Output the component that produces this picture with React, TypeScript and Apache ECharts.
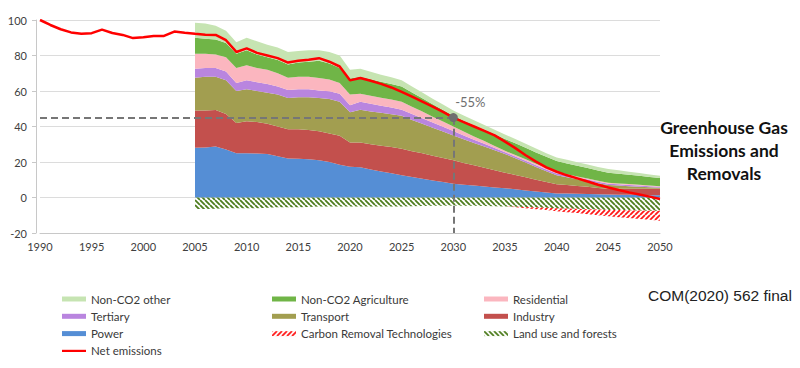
import React, { useEffect, useRef } from "react";
import * as echarts from "echarts";

// ---- Data (index 1990 = 100) ----
const years = [
  "1990", "1991", "1992", "1993", "1994", "1995", "1996", "1997", "1998", "1999",
  "2000", "2001", "2002", "2003", "2004", "2005", "2006", "2007", "2008", "2009",
  "2010", "2011", "2012", "2013", "2014", "2015", "2016", "2017", "2018", "2019",
  "2020", "2021", "2022", "2023", "2024", "2025", "2026", "2027", "2028", "2029",
  "2030", "2031", "2032", "2033", "2034", "2035", "2036", "2037", "2038", "2039",
  "2040", "2041", "2042", "2043", "2044", "2045", "2046", "2047", "2048", "2049", "2050",
];
const netEmissions = [
  100, 97.2, 94.8, 93, 92.3, 92.6, 94.6, 92.7, 91.6, 89.8,
  90.3, 91, 91, 93.5, 92.8, 92.2, 91.7, 91.6, 88.6, 82,
  84, 81.5, 80, 78.5, 76, 77, 77.6, 78.5, 76.5, 73.8,
  66, 67.3, 65.8, 64, 62, 59.5, 56.8, 54, 51.2, 48.2,
  45, 42.5, 40, 37.5, 35, 31.5, 27.8, 23.8, 20.2, 17,
  14.5, 12.5, 10.8, 9, 7.2, 5.6, 4.2, 2.9, 1.7, 0.5, -0.8,
];

// sector breakdown, 2005-2050
const stackYears = [
  "2005", "2006", "2007", "2008", "2009", "2010", "2011", "2012", "2013", "2014",
  "2015", "2016", "2017", "2018", "2019", "2020", "2021", "2022", "2023", "2024",
  "2025", "2026", "2027", "2028", "2029", "2030", "2031", "2032", "2033", "2034",
  "2035", "2036", "2037", "2038", "2039", "2040", "2041", "2042", "2043", "2044",
  "2045", "2046", "2047", "2048", "2049", "2050",
];
const power = [
  28, 28.2, 28.7, 27, 25, 25, 24.8, 24.5, 23.3, 22, 21.8, 21.5, 21, 20, 18.5, 17.3, 17,
  15.8, 14.7, 13.6, 12.5, 11.5, 10.6, 9.6, 8.7, 7.8, 7.2, 6.7, 6.2, 5.7, 5.2, 4.6, 4, 3.4, 2.8,
  2.3, 2.2, 2.1, 2, 1.8, 1.7, 1.6, 1.5, 1.4, 1.3, 1.2,
];
const industry = [
  21, 20.8, 20.6, 20, 17, 18, 17.7, 17, 16.7, 16.5, 16.7, 16.5, 16.3, 16, 16.3, 13.7, 14,
  14.2, 14.5, 14.8, 15, 14.6, 14.3, 13.9, 13.6, 13.2, 12.3, 11.4, 10.6, 9.7, 8.8, 8.1, 7.4, 6.6, 5.9,
  5.2, 4.8, 4.4, 4, 3.6, 3.3, 3.4, 3.5, 3.6, 3.7, 3.8,
];
const transport = [
  18.5, 19, 18.7, 19, 18, 18, 17.5, 17.5, 18, 17.5, 18, 18.5, 18.7, 19.5, 19.2, 17, 18.5,
  18.5, 18.5, 18.5, 18.5, 17.6, 16.7, 15.8, 14.9, 14, 13.3, 12.6, 11.9, 11.2, 10.5, 9.4, 8.3, 7.2, 6.1,
  5, 4.4, 3.8, 3.2, 2.6, 2, 1.7, 1.4, 1.1, 0.8, 0.5,
];
const tertiary = [
  5, 5, 5, 5, 4.5, 5, 5, 5, 4.5, 4.5, 4.5, 4.5, 4.3, 4.3, 4.5, 4, 4.5,
  4.3, 4, 3.8, 3.5, 3.3, 3.1, 2.9, 2.7, 2.5, 2.2, 1.9, 1.6, 1.3, 1, 1, 1, 1, 1,
  1, 0.96, 0.92, 0.88, 0.84, 0.8, 0.74, 0.68, 0.62, 0.56, 0.5,
];
const residential = [
  8.5, 8, 7.5, 8, 8.5, 8.5, 8, 8, 7.5, 7, 7, 7, 7, 6.7, 6, 6, 4.5,
  4.5, 4.5, 4.5, 4.5, 4.1, 3.7, 3.3, 2.9, 2.5, 2.2, 1.8, 1.5, 1.1, 0.8, 0.8, 0.8, 0.8, 0.8,
  0.8, 0.74, 0.68, 0.62, 0.56, 0.5, 0.48, 0.46, 0.44, 0.42, 0.4,
];
const nonCo2Agriculture = [
  9, 8.5, 8.5, 8, 8, 8.5, 7.5, 7, 7.5, 7.5, 8, 8.5, 9.7, 9, 8.5, 9, 9.5,
  9.3, 9, 8.8, 8.5, 8, 7.5, 7, 6.5, 6, 6.1, 6.3, 6.4, 6.6, 6.7, 6.6, 6.5, 6.4, 6.3,
  6.2, 6.1, 6, 5.9, 5.8, 5.7, 5.5, 5.3, 5.1, 4.8, 4.6,
];
const nonCo2Other = [
  8.5, 8.5, 7.8, 7, 6.5, 7, 7.5, 7, 7, 7, 6.5, 6.5, 6, 6.5, 7, 5, 4.5,
  4.3, 4, 3.8, 3.5, 3.4, 3.3, 3.2, 3.1, 3, 2.9, 2.8, 2.7, 2.6, 2.5, 2.4, 2.3, 2.2, 2.1,
  2, 2, 2, 2, 2, 2, 1.9, 1.7, 1.6, 1.4, 1.3,
];
const landUse = [
  -6.5, -6.5, -6.3, -6, -6, -6, -6, -5.8, -5.5, -5.5, -5.5, -5.3, -5, -5, -5, -5, -5,
  -5, -5, -5, -5, -4.9, -4.8, -4.7, -4.6, -4.5, -4.6, -4.7, -4.8, -4.9, -5, -5.2, -5.4, -5.6, -5.8,
  -6, -6.2, -6.4, -6.6, -6.8, -7, -7.1, -7.2, -7.3, -7.4, -7.5,
];
const carbonRemoval = [
  0, 0, 0, 0, 0, 0, 0, 0, 0, 0, 0, 0, 0, 0, 0, 0, 0,
  0, 0, 0, 0, 0, 0, 0, 0, 0, 0, 0, 0, 0, 0, -0.3, -0.6, -1, -1.3,
  -1.7, -2.1, -2.4, -2.8, -3.2, -3.6, -4, -4.4, -4.8, -5.2, -5.6,
];

const yTicks = { min: -20, max: 100, interval: 20 };
const baselineYear = "1990";
const targetYear = "2030";

const FONT = "Lato, 'Open Sans', sans-serif";

function hatch(color: string, dir: "back" | "fwd") {
  const size = 5;
  const c = document.createElement("canvas");
  c.width = size;
  c.height = size;
  const ctx = c.getContext("2d")!;
  ctx.strokeStyle = color;
  ctx.lineWidth = 1.8;
  ctx.beginPath();
  for (const o of [-size, 0, size]) {
    if (dir === "back") {
      ctx.moveTo(o, 0);
      ctx.lineTo(o + size, size);
    } else {
      ctx.moveTo(o, size);
      ctx.lineTo(o + size, 0);
    }
  }
  ctx.stroke();
  return { image: c, repeat: "repeat", imageWidth: size, imageHeight: size } as any;
}

// place sector values on the yearly category axis (no value before 2005)
function onAxis(vals: number[]) {
  return years.map((y) => {
    const i = stackYears.indexOf(y);
    return i >= 0 ? vals[i] : "-";
  });
}

export default function App() {
  const ref = useRef<HTMLDivElement>(null);

  useEffect(() => {
    if (!ref.current) return;
    const chart = echarts.init(ref.current, null, { renderer: "svg" });

    const greenHatch = hatch("#4E7D1E", "back");
    const redHatch = hatch("#FF1A1A", "fwd");

    const stackDefs = [
      { name: "Power", data: power, color: "#558ED5" },
      { name: "Industry", data: industry, color: "#C3504D" },
      { name: "Transport", data: transport, color: "#A29E50" },
      { name: "Tertiary", data: tertiary, color: "#B985DF" },
      { name: "Residential", data: residential, color: "#FBB6BF" },
      { name: "Non-CO2 Agriculture", data: nonCo2Agriculture, color: "#70B547" },
      { name: "Non-CO2 other", data: nonCo2Other, color: "#C6E4B2" },
      { name: "Land use and forests", data: landUse, color: greenHatch },
      { name: "Carbon Removal Technologies", data: carbonRemoval, color: redHatch },
    ];
    const colorOf: Record<string, any> = {};
    stackDefs.forEach((d) => (colorOf[d.name] = d.color));

    const areaSeries = stackDefs.map((d) => ({
      name: d.name,
      type: "line",
      stack: "total",
      data: onAxis(d.data),
      symbol: "none",
      showSymbol: false,
      lineStyle: { width: 0, color: d.color },
      itemStyle: { color: d.color },
      areaStyle: { color: d.color, opacity: 1 },
      z: 2,
    }));

    const tIdx = years.indexOf(targetYear);
    const baseVal = netEmissions[years.indexOf(baselineYear)];
    const targetValue = netEmissions[tIdx];
    const pctLabel = `${Math.round(((targetValue - baseVal) / baseVal) * 100)}%`;

    const legendItem = (name: string) =>
      name === "Net emissions"
        ? { name, icon: "path://M0,0L24,0L24,2.2L0,2.2Z", itemStyle: { color: "#FF0000", borderWidth: 0 } }
        : { name, itemStyle: { color: colorOf[name], borderWidth: 0 } };

    const legendBase = {
      orient: "vertical",
      top: 287,
      itemWidth: 24,
      itemHeight: 5,
      itemGap: 3.3,
      icon: "rect",
      selectedMode: false,
      textStyle: { fontFamily: FONT, fontSize: 11.5, color: "#3A3A3A", lineHeight: 14 },
    };

    chart.setOption({
      animation: false,
      grid: { left: 40, right: 140, top: 20, bottom: 135, containLabel: false },
      xAxis: {
        type: "category",
        data: years,
        boundaryGap: false,
        axisLine: { onZero: false, lineStyle: { color: "#C8C8C8", width: 1 } },
        axisTick: { show: false },
        splitLine: { show: false },
        axisLabel: { interval: 4, fontFamily: FONT, fontSize: 11, color: "#404040", margin: 8 },
      },
      yAxis: {
        type: "value",
        min: yTicks.min,
        max: yTicks.max,
        interval: yTicks.interval,
        offset: 4,
        axisLine: { show: true, lineStyle: { color: "#C8C8C8", width: 1 } },
        axisTick: { show: true, length: 4, lineStyle: { color: "#C8C8C8" } },
        splitLine: { show: true, lineStyle: { color: "#DCDCDC", width: 1 } },
        axisLabel: { fontFamily: FONT, fontSize: 11, color: "#404040", margin: 9 },
      },
      legend: [
        { ...legendBase, left: 57, data: ["Non-CO2 other", "Tertiary", "Power", "Net emissions"].map(legendItem) },
        { ...legendBase, left: 267, data: ["Non-CO2 Agriculture", "Transport", "Carbon Removal Technologies"].map(legendItem) },
        { ...legendBase, left: 479, data: ["Residential", "Industry", "Land use and forests"].map(legendItem) },
      ],
      series: [
        ...areaSeries,
        {
          name: "Net emissions",
          type: "line",
          data: netEmissions,
          symbol: "none",
          showSymbol: false,
          lineStyle: { color: "#FF0000", width: 2.5 },
          itemStyle: { color: "#FF0000" },
          z: 5,
          markLine: {
            silent: true,
            symbol: ["none", "none"],
            label: { show: false },
            lineStyle: { type: [7, 4], color: "#767676", width: 2 },
            data: [
              [{ coord: [0, targetValue] }, { coord: [tIdx, targetValue] }],
              [{ coord: [tIdx, targetValue] }, { coord: [tIdx, yTicks.min] }],
            ],
            z: 6,
          },
          markPoint: {
            silent: true,
            symbol: "circle",
            symbolSize: 9,
            itemStyle: { color: "#6F6F6F" },
            label: {
              show: true,
              position: "top",
              offset: [17, 0],
              formatter: pctLabel,
              fontFamily: FONT,
              fontSize: 13,
              color: "#6F6F6F",
            },
            data: [{ coord: [tIdx, targetValue] }],
            z: 7,
          },
        },
      ],
      graphic: [
        {
          type: "text",
          x: 724,
          y: 116,
          style: {
            text: "Greenhouse Gas\nEmissions and\nRemovals",
            fontFamily: FONT,
            fontWeight: "bold",
            fontSize: 17.5,
            lineHeight: 23,
            align: "center",
            verticalAlign: "top",
            fill: "#111111",
          },
        },
        {
          type: "text",
          x: 648,
          y: 287,
          style: {
            text: "COM(2020) 562 final",
            fontFamily: "'Liberation Sans', Arial, sans-serif",
            fontSize: 15.5,
            fill: "#222222",
          },
        },
      ],
    });

    return () => chart.dispose();
  }, []);

  return (
    <div
      ref={ref}
      style={{ position: "fixed", left: 0, top: 0, width: 800, height: 368, background: "#fff" }}
    />
  );
}
